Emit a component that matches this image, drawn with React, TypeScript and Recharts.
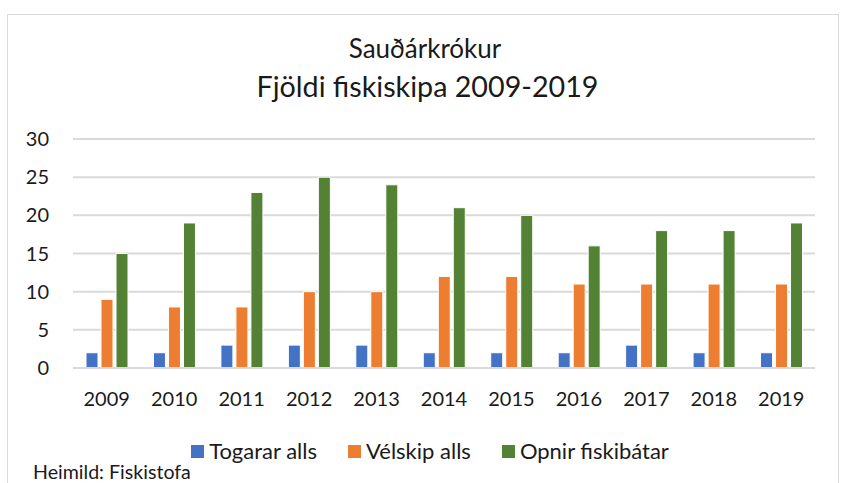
import { BarChart, Bar, XAxis, YAxis, CartesianGrid } from "recharts";

const years = ["2009", "2010", "2011", "2012", "2013", "2014", "2015", "2016", "2017", "2018", "2019"];
const togarar = [2, 2, 3, 3, 3, 2, 2, 2, 3, 2, 2];
const velskip = [9, 8, 8, 10, 10, 12, 12, 11, 11, 11, 11];
const opnir = [15, 19, 23, 25, 24, 21, 20, 16, 18, 18, 19];
const yTicks = [0, 5, 10, 15, 20, 25, 30];

const series = [
  { key: "togarar", name: "Togarar alls", color: "#4472C4" },
  { key: "velskip", name: "Vélskip alls", color: "#ED7D31" },
  { key: "opnir", name: "Opnir fiskibátar", color: "#548235" },
];

const data = years.map((year, i) => ({
  year,
  togarar: togarar[i],
  velskip: velskip[i],
  opnir: opnir[i],
}));

const font = "Lato, 'Noto Sans', sans-serif";

export default function App() {
  return (
    <div
      style={{
        position: "absolute",
        left: 0,
        top: 0,
        width: 844,
        height: 483,
        overflow: "hidden",
        background: "#fff",
        fontFamily: font,
      }}
    >
      <div
        style={{
          position: "absolute",
          left: 7,
          top: 14,
          width: 830,
          height: 520,
          border: "1.5px solid #d9d9d9",
        }}
      />
      <div
        style={{
          position: "absolute",
          left: 0,
          width: 850,
          top: 33,
          textAlign: "center",
          fontSize: 26,
          lineHeight: 1.2,
          color: "#1a1a1a",
        }}
      >
        Sauðárkrókur
      </div>
      <div
        style={{
          position: "absolute",
          left: 0,
          width: 855,
          top: 69,
          textAlign: "center",
          fontSize: 28.7,
          lineHeight: 1.2,
          color: "#1a1a1a",
        }}
      >
        Fjöldi fiskiskipa 2009-2019
      </div>
      <div style={{ position: "absolute", left: 0, top: 0 }}>
        <BarChart
          width={844}
          height={483}
          data={data}
          margin={{ top: 139, right: 29, left: 0, bottom: 85 }}
          barSize={12}
          barGap={3}
        >
          <CartesianGrid vertical={false} stroke="#d9d9d9" strokeWidth={2} />
          <XAxis
            dataKey="year"
            height={30}
            axisLine={{ stroke: "#d9d9d9", strokeWidth: 2 }}
            tickLine={false}
            tickMargin={18}
            tick={{ fill: "#1a1a1a", fontSize: 20, fontFamily: font }}
          />
          <YAxis
            width={73}
            domain={[0, 30]}
            ticks={yTicks}
            axisLine={false}
            tickLine={false}
            tickMargin={18}
            tick={{ fill: "#1a1a1a", fontSize: 20, fontFamily: font }}
          />
          {series.map((s) => (
            <Bar
              key={s.key}
              dataKey={s.key}
              name={s.name}
              fill={s.color}
              stroke="#ffffff"
              strokeWidth={1}
              isAnimationActive={false}
            />
          ))}
        </BarChart>
      </div>
      <div
        style={{
          position: "absolute",
          left: 0,
          width: 860,
          top: 438,
          display: "flex",
          justifyContent: "center",
          gap: 31,
          fontSize: 22,
          lineHeight: 1.2,
          color: "#1a1a1a",
        }}
      >
        {series.map((s) => (
          <div key={s.key} style={{ display: "flex", alignItems: "center" }}>
            <span
              style={{
                display: "inline-block",
                width: 13,
                height: 13,
                background: s.color,
                marginRight: 5,
              }}
            />
            <span>{s.name}</span>
          </div>
        ))}
      </div>
      <div
        style={{
          position: "absolute",
          left: 33,
          top: 462,
          fontSize: 19.6,
          lineHeight: 1,
          color: "#1a1a1a",
        }}
      >
        Heimild: Fiskistofa
      </div>
    </div>
  );
}
